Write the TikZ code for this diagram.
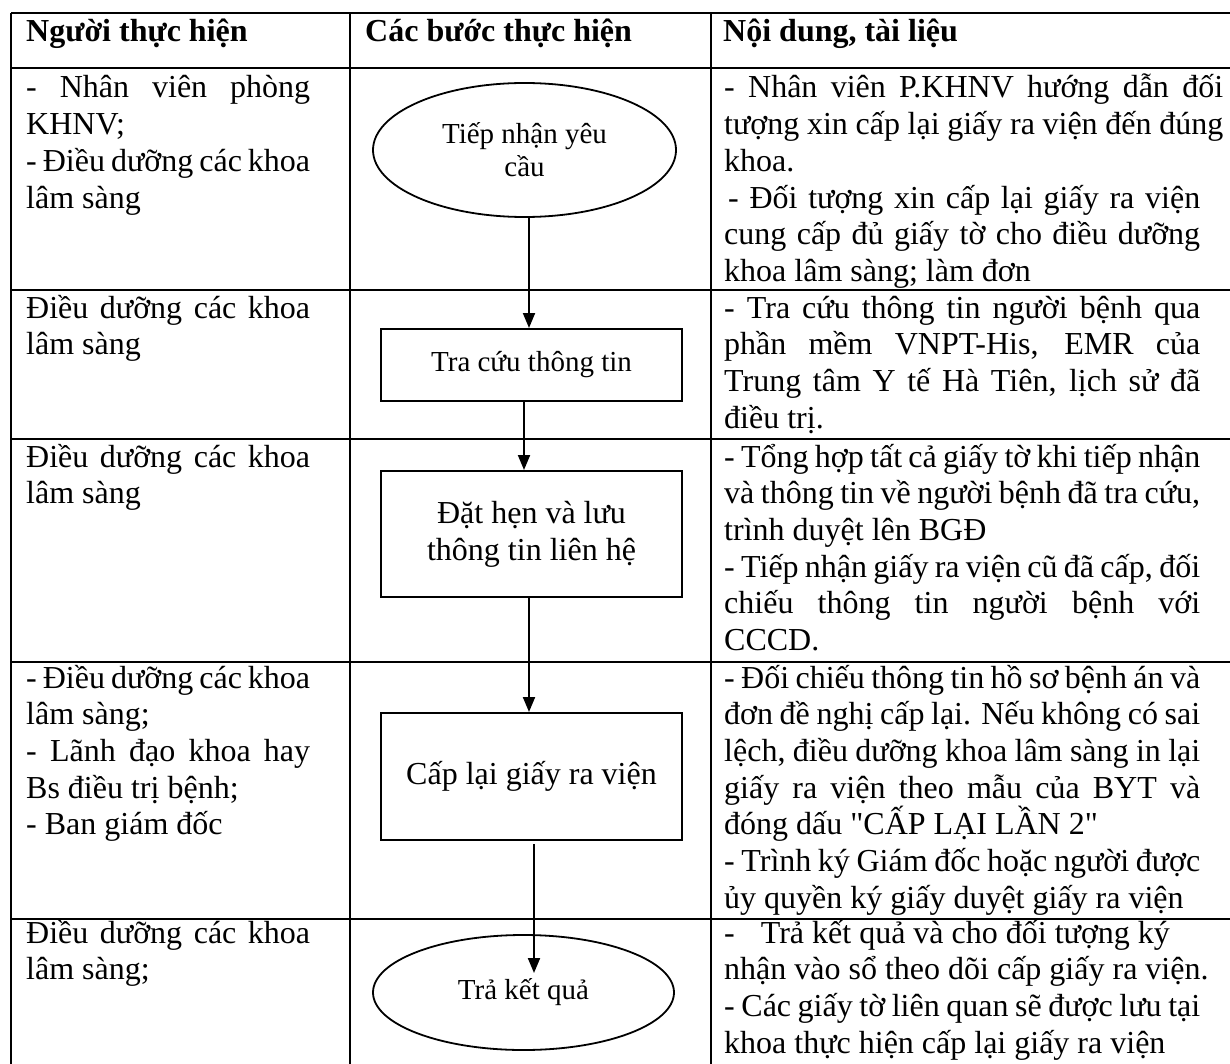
\documentclass[tikz,border=0pt]{standalone}
\usepackage{fontspec}
\setmainfont{Liberation Serif}[Ligatures=TeXOff]
\usetikzlibrary{arrows.meta,shapes.geometric}
\newcommand\jA[1]{\makebox[284pt][s]{#1}}
\newcommand\jC[1]{\makebox[476pt][s]{#1}}
\newcommand\jD[1]{\makebox[499pt][s]{#1}}
\newcommand\jE[1]{\makebox[472pt][s]{#1}}
\begin{document}
\begin{tikzpicture}[x=1pt,y=-1pt,
  grid/.style={line width=2.2pt},
  cell/.style={inner sep=0pt, anchor=base west, font=\fontsize{32}{36.7}\selectfont},
  head/.style={inner sep=0pt, anchor=base west, font=\bfseries\fontsize{32}{36.7}\selectfont},
  proc/.style={draw, line width=2pt, rectangle, minimum width=301pt, inner sep=0pt, align=center},
  term/.style={draw, line width=1.8pt, ellipse, inner sep=0pt, align=center, font=\fontsize{29}{33}\selectfont},
  arr/.style={line width=2pt, -{Triangle[length=15pt,width=12pt]}}
]
\useasboundingbox (0,0) rectangle (1230,1064);
\fill[white] (0,0) rectangle (1230,1064);

% table grid
\draw[grid] (11,13) -- (1245,13);
\draw[grid] (11,68) -- (1245,68);
\draw[grid] (11,290) -- (1245,290);
\draw[grid] (11,439) -- (1245,439);
\draw[grid] (11,662) -- (1245,662);
\draw[grid] (11,919) -- (1245,919);
\draw[grid] (11,13) -- (11,1080);
\draw[grid] (350,13) -- (350,1080);
\draw[grid] (711,13) -- (711,1080);

% header
\node[head] (h1) at (26,42) {Người thực hiện};
\node[head] (h2) at (365,42) {Các bước thực hiện};
\node[head] (h3) at (723,42) {Nội dung, tài liệu};

% column 1
\node[cell] (a1) at (26,98) {\parbox[t]{330pt}{\jA{- Nhân viên phòng}\\KHNV;\\\jA{- Điều dưỡng các khoa}\\lâm sàng}};
\node[cell] (a2) at (26,318) {\parbox[t]{330pt}{\jA{Điều dưỡng các khoa}\\lâm sàng}};
\node[cell] (a3) at (26,467) {\parbox[t]{330pt}{\jA{Điều dưỡng các khoa}\\lâm sàng}};
\node[cell] (a4) at (26,688) {\parbox[t]{330pt}{\jA{- Điều dưỡng các khoa}\\lâm sàng;\\\jA{- Lãnh đạo khoa hay}\\Bs điều trị bệnh;\\- Ban giám đốc}};
\node[cell] (a5) at (26,943) {\parbox[t]{330pt}{\jA{Điều dưỡng các khoa}\\lâm sàng;}};

% column 3
\node[cell] (c1) at (724,98) {\parbox[t]{560pt}{\jD{- Nhân viên P.KHNV hướng dẫn đối}\\\jD{tượng xin cấp lại giấy ra viện đến đúng}\\khoa.\\\hspace*{4pt}\jE{- Đối tượng xin cấp lại giấy ra viện}\\\jC{cung cấp đủ giấy tờ cho điều dưỡng}\\khoa lâm sàng; làm đơn}};
\node[cell] (c2) at (724,318) {\parbox[t]{560pt}{\jC{- Tra cứu thông tin người bệnh qua}\\\jC{phần mềm VNPT-His, EMR của}\\\jC{Trung tâm Y tế Hà Tiên, lịch sử đã}\\điều trị.}};
\node[cell] (c3) at (724,467) {\parbox[t]{560pt}{\jC{- Tổng hợp tất cả giấy tờ khi tiếp nhận}\\\jC{và thông tin về người bệnh đã tra cứu,}\\trình duyệt lên BGĐ\\\jC{- Tiếp nhận giấy ra viện cũ đã cấp, đối}\\\jC{chiếu thông tin người bệnh với}\\CCCD.}};
\node[cell] (c4) at (724,688) {\parbox[t]{560pt}{\jC{- Đối chiếu thông tin hồ sơ bệnh án và}\\\jC{đơn đề nghị cấp lại. Nếu không có sai}\\\jC{lệch, điều dưỡng khoa lâm sàng in lại}\\\jC{giấy ra viện theo mẫu của BYT và}\\đóng dấu "CẤP LẠI LẦN 2"\\\jC{- Trình ký Giám đốc hoặc người được}\\ủy quyền ký giấy duyệt giấy ra viện}};
\node[cell] (c5) at (724,943) {\parbox[t]{560pt}{-\hspace{26pt}Trả kết quả và cho đối tượng ký\\nhận vào sổ theo dõi cấp giấy ra viện.\\\jC{- Các giấy tờ liên quan sẽ được lưu tại}\\khoa thực hiện cấp lại giấy ra viện}};

% flow
\node[term, minimum width=303pt, minimum height=134pt] (e1) at (524.5,150) {Tiếp nhận yêu\\cầu};
\node[proc, minimum height=72pt, font=\fontsize{29}{33}\selectfont] (r2) at (531.5,365) {Tra cứu thông tin};
\node[proc, minimum height=126pt, font=\fontsize{32}{36.7}\selectfont] (r3) at (531.5,534) {Đặt hẹn và lưu\\thông tin liên hệ};
\node[proc, minimum height=127pt, font=\fontsize{32}{36.7}\selectfont] (r4) at (531.5,776.5) {Cấp lại giấy ra viện};
\node[term, minimum width=301pt, minimum height=115pt] (e5) at (523.5,992.5) {Trả kết quả};

\draw[arr] ([xshift=4.5pt]e1.south) -- ([xshift=-2.5pt]r2.north);
\draw[arr] ([xshift=-7.5pt]r2.south) -- ([xshift=-7.5pt]r3.north);
\draw[arr] ([xshift=-2.5pt]r3.south) -- ([xshift=-2.5pt]r4.north);
\draw[arr] ([xshift=2.5pt,yshift=-3pt]r4.south) -- ([xshift=10.5pt,yshift=19.5pt]e5.center);
\end{tikzpicture}
\end{document}
